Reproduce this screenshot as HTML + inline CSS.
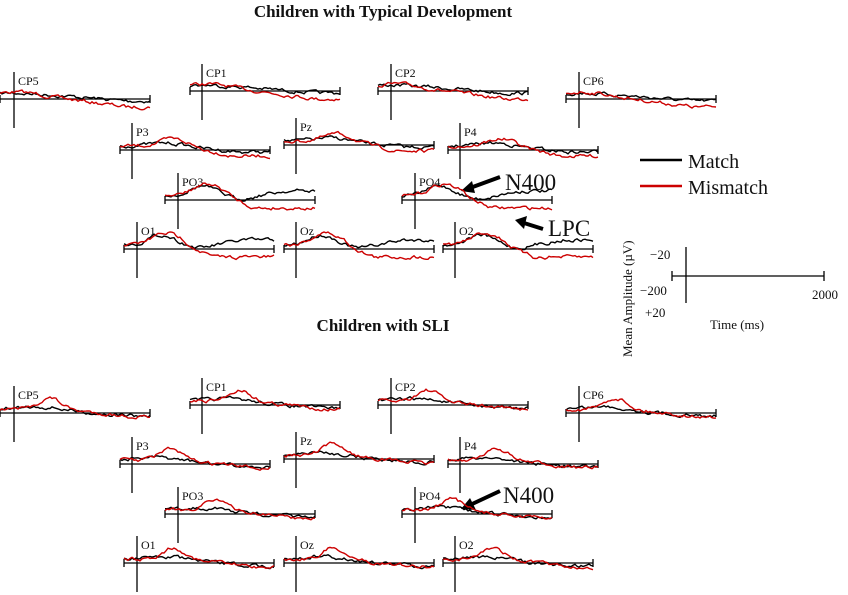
<!DOCTYPE html>
<html><head><meta charset="utf-8"><style>
html,body{margin:0;padding:0;background:#fff;}
svg{display:block;}
text{font-family:"Liberation Serif",serif;fill:#111;}
</style></head><body>
<svg id="s" width="848" height="595" viewBox="0 0 848 595" xmlns="http://www.w3.org/2000/svg">
<text x="383" y="17" font-size="17" font-weight="bold" text-anchor="middle">Children with Typical Development</text>
<text x="383" y="331" font-size="17" font-weight="bold" text-anchor="middle">Children with SLI</text>
<line x1="640" y1="160" x2="682" y2="160" stroke="#000" stroke-width="2.5"/>
<text x="688" y="168" font-size="20">Match</text>
<line x1="640" y1="186" x2="682" y2="186" stroke="#c00" stroke-width="2.5"/>
<text x="688" y="194" font-size="20">Mismatch</text>
<g stroke="#000" stroke-width="1.3">
<line x1="686" y1="247" x2="686" y2="303"/><line x1="672" y1="276" x2="824" y2="276"/>
<line x1="672" y1="271" x2="672" y2="281"/><line x1="824" y1="271" x2="824" y2="281"/>
</g>
<text x="650" y="259" font-size="13">−20</text>
<text x="640" y="295" font-size="13">−200</text>
<text x="645" y="317" font-size="13">+20</text>
<text x="812" y="299" font-size="13">2000</text>
<text x="710" y="329" font-size="13">Time (ms)</text>
<text transform="translate(632,357) rotate(-90)" font-size="13">Mean Amplitude (µV)</text>
<g stroke="#000" stroke-width="4" fill="none">
<line x1="500" y1="177" x2="470" y2="188"/><polygon points="461,191 472,181 475,193" fill="#000" stroke="none"/>
<line x1="543" y1="229" x2="524" y2="223"/><polygon points="515,220 527,216 524,229" fill="#000" stroke="none"/>
<line x1="500" y1="491" x2="470" y2="505"/><polygon points="461,509 470,498 476,510" fill="#000" stroke="none"/>
</g>
<text x="505" y="190" font-size="23">N400</text>
<text x="548" y="236" font-size="23">LPC</text>
<text x="503" y="503" font-size="23">N400</text>
<g id="plots"></g>
</svg>
<script>
var seed=7;function r(){seed=(seed*16807)%2147483647;return seed/2147483647;}
var P=[["CP5",0,99,14,"c"],["CP1",190,91,202,"c"],["CP2",378,91,391,"c"],["CP6",566,99,579,"c"],
["P3",120,150,132,"p"],["Pz",284,145,296,"p"],["P4",448,150,460,"p"],
["PO3",165,200,178,"o"],["PO4",402,200,415,"o"],["O1",124,249,137,"o"],["Oz",284,249,296,"o"],["O2",443,249,455,"o"]];
function g(t,c,w){return Math.exp(-Math.pow((t-c)/w,2));}
var out="";
function noise(){var a=[],v=0;for(var i=0;i<=75;i++){v=v*0.6+(r()-0.5)*3;a.push(v);}return a;}
[0,314].forEach(function(off){
P.forEach(function(p){
var x0=p[1],y=p[2]+off,vx=p[3],t=p[4];
out+='<g stroke="#000" stroke-width="1.3"><line x1="'+vx+'" y1="'+(y-27)+'" x2="'+vx+'" y2="'+(y+29)+'"/><line x1="'+x0+'" y1="'+y+'" x2="'+(x0+150)+'" y2="'+y+'"/><line x1="'+x0+'" y1="'+(y-4)+'" x2="'+x0+'" y2="'+(y+4)+'"/><line x1="'+(x0+150)+'" y1="'+(y-4)+'" x2="'+(x0+150)+'" y2="'+(y+4)+'"/></g>';
out+='<text x="'+(vx+4)+'" y="'+(y-14)+'" font-size="12">'+p[0]+'</text>';
function f(kind,tt){
 if(off==0){
  if(t=="c") return kind? -3*g(tt,0.1,0.15)+12*Math.min(1,Math.max(0,(tt-0.25)/0.6)) : -2*g(tt,0.1,0.15)+6*Math.min(1,Math.max(0,(tt-0.35)/0.5));
  if(t=="p") return kind? -7*g(tt,0.35,0.12)+10*Math.min(1,Math.max(0,(tt-0.45)/0.3)) : -3*g(tt,0.3,0.15)+6*Math.min(1,Math.max(0,(tt-0.4)/0.4));
  return kind? -12*g(tt,0.28,0.13)+12*Math.min(1,Math.max(0,(tt-0.4)/0.2)) : -10*g(tt,0.25,0.12)+3*g(tt,0.5,0.08)-5*Math.min(1,Math.max(0,(tt-0.6)/0.2));
 } else {
  return kind? -11*g(tt,0.33,0.1)+8*Math.min(1,Math.max(0,(tt-0.4)/0.5)) : -3*g(tt,0.3,0.2)+7*Math.min(1,Math.max(0,(tt-0.2)/0.7));
 }
}
[[0,"#000"],[1,"#c00"]].forEach(function(k){
 var n=noise(),pts=[];
 for(var i=0;i<=75;i++){var tt=i/75;pts.push((x0+2*i).toFixed(1)+","+(y-4+f(k[0],tt)+n[i]).toFixed(1));}
 out+='<polyline fill="none" stroke="'+k[1]+'" stroke-width="1.4" points="'+pts.join(" ")+'"/>';
});
});});
document.getElementById("plots").innerHTML=out;
</script>
</body></html>
